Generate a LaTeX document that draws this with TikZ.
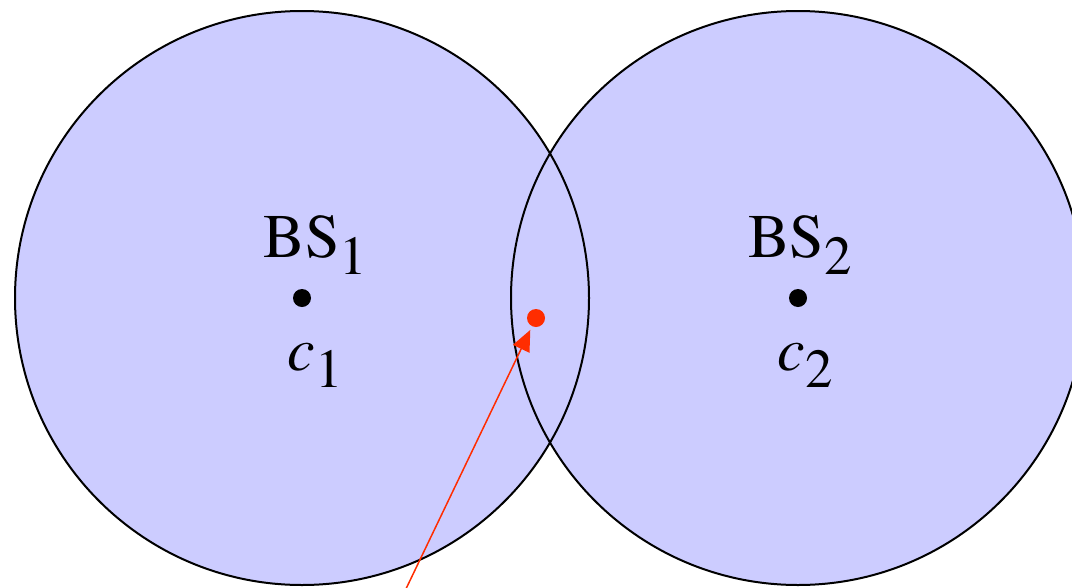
\documentclass[tikz,border=0pt]{standalone}
\usepackage{fontspec}
\setmainfont{texgyretermes}[Extension=.otf, UprightFont=*-regular, ItalicFont=*-italic, BoldFont=*-bold]
\usetikzlibrary{arrows.meta}
\definecolor{cellfill}{RGB}{204,204,255}
\definecolor{uered}{RGB}{255,45,0}
\newcommand\mysub[1]{\raisebox{-17pt}{\fontsize{55}{60}\selectfont\upshape #1}}
\tikzset{
  cell/.style={line width=2pt, draw=black},
  lbl/.style={inner sep=0pt, anchor=base, font=\fontsize{62}{70}\selectfont},
  bsdot/.style={circle, fill=black, inner sep=0pt, minimum size=18pt},
  uedot/.style={circle, fill=uered, inner sep=0pt, minimum size=18pt},
  link/.style={draw=uered, line width=1.5pt, -{Triangle[length=21pt,width=18pt]}, shorten >=4pt}
}
\begin{document}
\begin{tikzpicture}[x=1pt,y=-1pt]
\useasboundingbox (0,0) rectangle (1072,587);
\clip (0,0) rectangle (1072,587);
\coordinate (c1) at (302,298);
\coordinate (c2) at (798,298);
\fill[cellfill] (c1) circle (287);
\fill[cellfill] (c2) circle (287);
\draw[cell] (c1) circle (287);
\draw[cell] (c2) circle (287);
\node[bsdot] (d1) at (c1) {};
\node[bsdot] (d2) at (c2) {};
\node[lbl] (bs1) at (315.5,257) {BS\mysub{1}};
\node[lbl] (bs2) at (800,257) {BS\mysub{2}};
\node[lbl] (cl1) at (315.5,370) {\itshape c\mysub{1}};
\node[lbl] (cl2) at (805,370) {\itshape c\mysub{2}};
\node[uedot] (ue) at (536,318) {};
\coordinate (src) at (404,593);
\draw[link] (src) -- (ue);
\end{tikzpicture}
\end{document}
